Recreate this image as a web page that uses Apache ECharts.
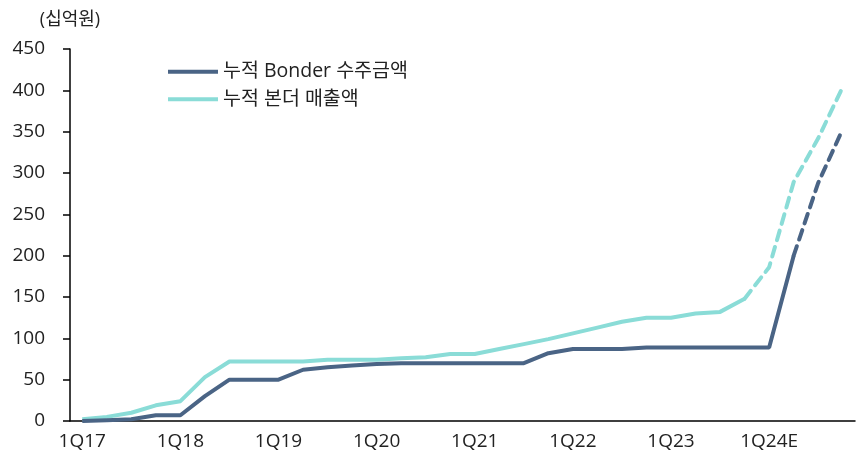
<!DOCTYPE html>
<html>
<head>
<meta charset="utf-8">
<script src="https://cdn.jsdelivr.net/npm/echarts@6/dist/echarts.min.js"></script>
<style>
  html,body{margin:0;padding:0;background:#fff;}
  #chart{width:861px;height:459px;}
</style>
</head>
<body>
<div id="chart"></div>
<script>
  // 분기 카테고리
  var quarters = [];
  var years = ['17','18','19','20','21','22','23','24'];
  for (var y = 0; y < years.length; y++) {
    for (var q = 1; q <= 4; q++) {
      quarters.push(q + 'Q' + years[y] + (years[y] === '24' ? 'E' : ''));
    }
  }
  // 누적 Bonder 수주금액
  var orders = [0,1,2,7,7,30,50,50,50,62,65,67,69,70,70,70,70,70,70,82,87,87,87,89,89,89,89,89,89,200,288,353];
  // 누적 본더 매출액
  var sales  = [2,5,10,19,24,53,72,72,72,72,74,74,74,76,77,81,81,87,93,99,106,113,120,125,125,130,132,148,186,289,342,404];

  var orderSolidEnd = 29;  // 실선 끝 index
  var salesSolidEnd = 27;

  function part(arr, from, to) {
    return arr.map(function (v, i) { return (i >= from && i <= to) ? v : null; });
  }

  var dark = '#4a6485', light = '#8adcd7';
  var font = "'Open Sans', 'Noto Sans CJK KR', sans-serif";

  var chart = echarts.init(document.getElementById('chart'));
  var option = {
    animation: false,
    textStyle: {fontFamily: font},
    grid: {left: 70, right: 6, top: 49, bottom: 38, containLabel: false},
    legend: {
      orient: 'vertical',
      left: 163, top: 57,
      itemWidth: 50, itemHeight: 4, itemGap: 8,
      icon: 'rect',
      textStyle: {fontSize: 19.5, color: '#222', fontFamily: font},
      data: ['누적 Bonder 수주금액', '누적 본더 매출액']
    },
    xAxis: {
      type: 'category',
      data: quarters,
      boundaryGap: true,
      axisLine: {lineStyle: {color: '#000', width: 1.5}},
      axisTick: {interval: 3, length: 6, lineStyle: {color: '#000', width: 1.5}},
      axisLabel: {interval: 3, fontSize: 19, color: '#222', margin: 11, fontFamily: font}
    },
    yAxis: {
      type: 'value',
      min: 0, max: 450, interval: 50,
      name: '(십억원)',
      nameLocation: 'end',
      nameGap: 20,
      nameTextStyle: {fontSize: 18, color: '#222', align: 'center', fontFamily: font},
      axisLine: {show: true, lineStyle: {color: '#000', width: 1.5}},
      axisTick: {show: true, length: 7, lineStyle: {color: '#000', width: 1.5}},
      splitLine: {show: false},
      axisLabel: {fontSize: 19, color: '#222', margin: 25, fontFamily: font}
    },
    series: [
      {
        name: '누적 Bonder 수주금액', type: 'line', data: part(orders, 0, orderSolidEnd),
        symbol: 'none', color: dark, lineStyle: {width: 4, color: dark}, z: 3
      },
      {
        name: '누적 본더 매출액', type: 'line', data: part(sales, 0, salesSolidEnd),
        symbol: 'none', color: light, lineStyle: {width: 4, color: light}, z: 2
      },
      {
        name: 'orderEst', type: 'line', data: part(orders, orderSolidEnd, orders.length - 1),
        symbol: 'none', lineStyle: {width: 4, color: dark, type: [10, 7], cap: 'round'}, z: 3
      },
      {
        name: 'salesEst', type: 'line', data: part(sales, salesSolidEnd, sales.length - 1),
        symbol: 'none', lineStyle: {width: 4, color: light, type: [10, 7], cap: 'round'}, z: 2
      }
    ]
  };
  chart.setOption(option);
</script>
</body>
</html>
